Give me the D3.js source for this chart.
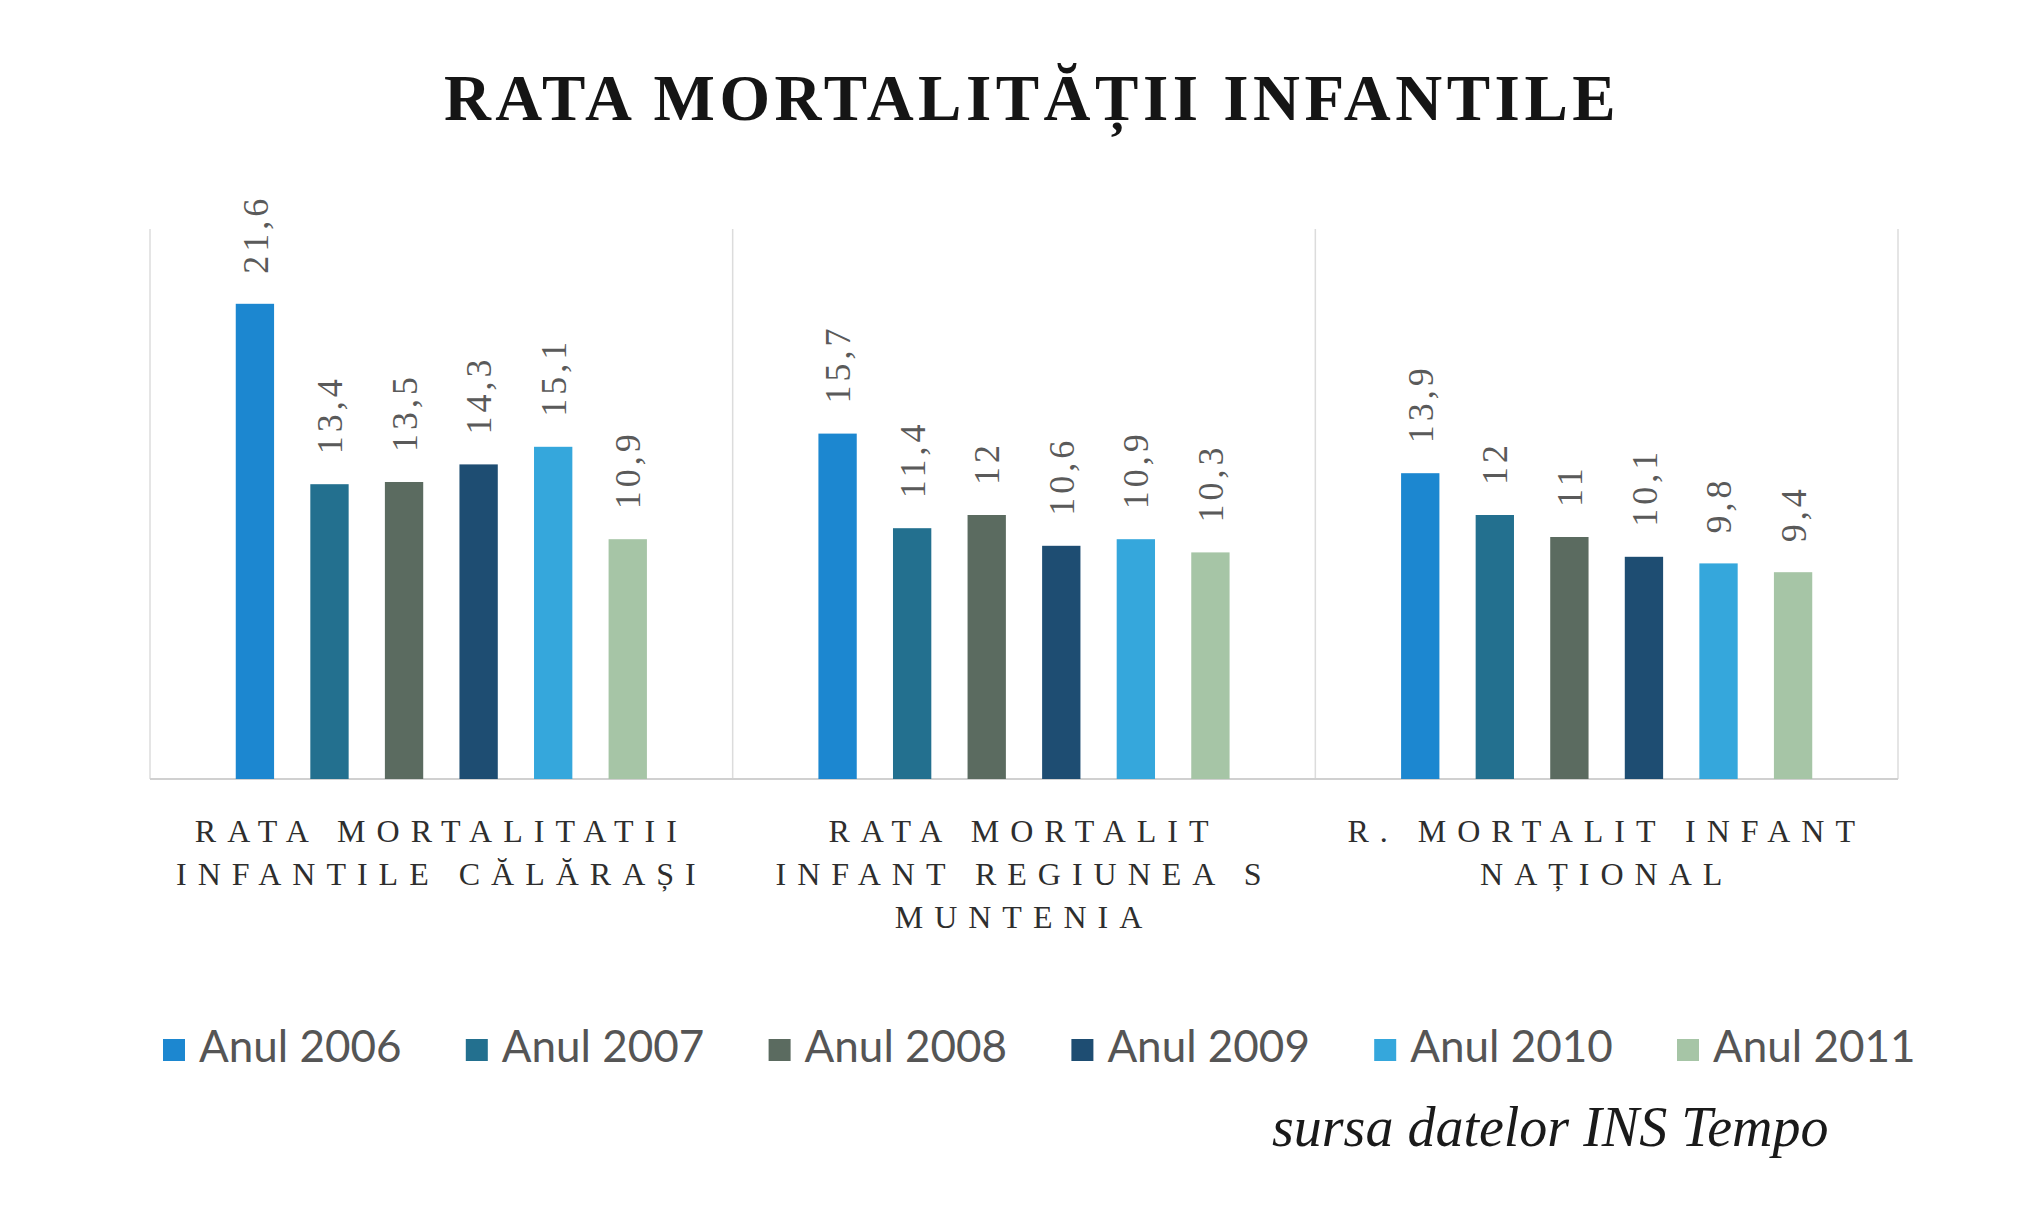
<!DOCTYPE html>
<html>
<head>
<meta charset="utf-8">
<script src="https://cdn.jsdelivr.net/npm/d3@7"></script>
<style>
  html, body { margin: 0; padding: 0; background: #ffffff; }
  svg { display: block; }
</style>
</head>
<body>
<script>
// ---- Data ----
const titleText = "RATA MORTALITĂȚII INFANTILE";
const categories = ["Călărași", "Regiunea S Muntenia", "Național"];
const categoryLines = [
  ["RATA MORTALITATII", "INFANTILE CĂLĂRAȘI"],
  ["RATA MORTALIT", "INFANT REGIUNEA S", "MUNTENIA"],
  ["R. MORTALIT INFANT", "NAȚIONAL"]
];
const seriesNames = ["Anul 2006", "Anul 2007", "Anul 2008", "Anul 2009", "Anul 2010", "Anul 2011"];
const values2006 = [21.6, 15.7, 13.9];
const values2007 = [13.4, 11.4, 12];
const values2008 = [13.5, 12, 11];
const values2009 = [14.3, 10.6, 10.1];
const values2010 = [15.1, 10.9, 9.8];
const values2011 = [10.9, 10.3, 9.4];
const seriesColors = ["#1c87d0", "#23708f", "#5b6b60", "#1e4d72", "#35a7dc", "#a6c5a6"];
const sourceText = "sursa datelor INS Tempo";

const seriesValues = [values2006, values2007, values2008, values2009, values2010, values2011];

// ---- Layout ----
const W = 2038, H = 1227;
const plot = { left: 150, right: 1898, top: 229, bottom: 779 };

const svg = d3.select("body").append("svg")
  .attr("width", W).attr("height", H);

svg.append("rect").attr("width", W).attr("height", H).attr("fill", "#ffffff");

const x0 = d3.scaleBand().domain(categories).range([plot.left, plot.right]).padding(0);
const x1 = d3.scaleBand().domain(seriesNames).range([0, x0.bandwidth()])
  .paddingInner(0.486).paddingOuter(1.15);
const y = d3.scaleLinear().domain([0, 25]).range([plot.bottom, plot.top]);

// Title
svg.append("text")
  .attr("x", 1032).attr("y", 120)
  .attr("text-anchor", "middle")
  .attr("font-family", "'Liberation Serif', 'DejaVu Serif', serif")
  .attr("font-weight", "bold")
  .attr("font-size", 65)
  .attr("letter-spacing", 4.5)
  .attr("fill", "#151515")
  .text(titleText);

// Category separator lines (vertical gridlines)
const bounds = categories.map(c => x0(c)).concat([x0(categories[categories.length - 1]) + x0.bandwidth()]);
svg.append("g").selectAll("line").data(bounds).join("line")
  .attr("x1", d => d).attr("x2", d => d)
  .attr("y1", plot.top).attr("y2", plot.bottom)
  .attr("stroke", "#dcdcdc").attr("stroke-width", 1.5);

// Baseline axis
svg.append("line")
  .attr("x1", plot.left).attr("x2", plot.right)
  .attr("y1", y(0)).attr("y2", y(0))
  .attr("stroke", "#d0d0d0").attr("stroke-width", 2);

// Bars
const flat = [];
categories.forEach((c, ci) => {
  seriesNames.forEach((s, si) => {
    flat.push({ cat: c, series: s, si: si, value: seriesValues[si][ci] });
  });
});

const barG = svg.append("g");
barG.selectAll("rect").data(flat).join("rect")
  .attr("x", d => x0(d.cat) + x1(d.series))
  .attr("width", x1.bandwidth())
  .attr("y", d => y(d.value))
  .attr("height", d => y(0) - y(d.value))
  .attr("fill", d => seriesColors[d.si]);

// Value labels (rotated)
barG.selectAll("text").data(flat).join("text")
  .attr("transform", d => {
    const cx = x0(d.cat) + x1(d.series) + x1.bandwidth() / 2;
    const ty = y(d.value) - 30;
    return `translate(${cx},${ty}) rotate(-90)`;
  })
  .attr("dy", "0.35em")
  .attr("text-anchor", "start")
  .attr("font-family", "'Liberation Serif', 'DejaVu Serif', serif")
  .attr("font-size", 36)
  .attr("letter-spacing", 4)
  .attr("fill", "#5a5a5a")
  .text(d => String(d.value).replace(".", ","));

// Category labels
const catG = svg.append("g");
categories.forEach((c, ci) => {
  const cx = x0(c) + x0.bandwidth() / 2;
  categoryLines[ci].forEach((line, li) => {
    catG.append("text")
      .attr("x", cx).attr("y", 842 + li * 43)
      .attr("text-anchor", "middle")
      .attr("font-family", "'Liberation Serif', 'DejaVu Serif', serif")
      .attr("font-size", 32)
      .attr("letter-spacing", 11)
      .attr("fill", "#2e2e2e")
      .text(line);
  });
});

// Legend
const legend = svg.append("g").attr("transform", "translate(163,1037)");
const items = legend.selectAll("g").data(seriesNames).join("g")
  .attr("transform", (d, i) => `translate(${i * 302.8},0)`);
items.append("rect")
  .attr("x", 0).attr("y", 2).attr("width", 22).attr("height", 22)
  .attr("fill", (d, i) => seriesColors[i]);
items.append("text")
  .attr("x", 36).attr("y", 25)
  .attr("font-family", "Lato, 'Open Sans', sans-serif")
  .attr("font-size", 44)
  .attr("fill", "#555555")
  .text(d => d);

// Source note
svg.append("text")
  .attr("x", 1272).attr("y", 1146)
  .attr("font-family", "'Liberation Serif', 'DejaVu Serif', serif")
  .attr("font-style", "italic")
  .attr("font-size", 56)
  .attr("fill", "#1a1a1a")
  .text(sourceText);
</script>
</body>
</html>
